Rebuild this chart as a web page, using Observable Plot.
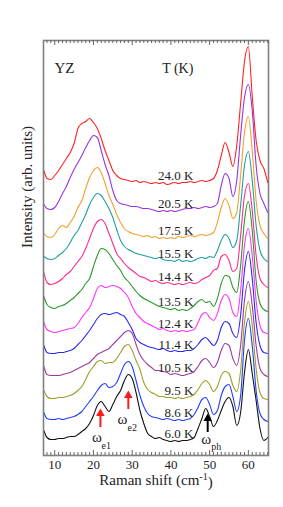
<!DOCTYPE html>
<html><head><meta charset="utf-8">
<script src="https://cdn.jsdelivr.net/npm/d3@7"></script>
<script src="https://cdn.jsdelivr.net/npm/@observablehq/plot@0.6"></script>
<style>
body{margin:0;background:#fff}
#chart svg, #chart svg text, #chart svg tspan {font-family: "Liberation Serif", "DejaVu Serif", "Times New Roman", serif !important;}
</style>
</head><body><div id="chart"></div>
<script>
// Raman shift grid (cm^-1)
const shift = [7.2,8,9,10,11,12,13,14,15,16,17,18,19,20,21,22,23,24,25,26,27,28,29,30,31,32,33,34,35,36,37,38,39,40,41,42,43,44,45,46,47,48,49,50,51,52,53,54,55,56,57,58,59,60,61,62,63,64,65];
const temperatures = ["24.0 K","20.5 K","17.5 K","15.5 K","14.4 K","13.5 K","12.4 K","11.4 K","10.5 K","9.5 K","8.6 K","6.0 K"];
const offsets = [278,250,223,200,177,152,130,109,86,63,41,20];
const colors = ["#ff2222","#9933dd","#f0a030","#229e9e","#ff2a8a","#2a9a2a","#ff33ff","#2a2aee","#a03aa0","#a0a028","#2040ff","#111111"];
const majorTicks = [10,20,30,40,50,60];

// Intensity spectra (arb. units), one per temperature
const s24_0 = [12,4,3,7,12,18,24,30,39,54,59,61,64,60,54,44,32,22,12,7,4,3,2,1,2,0,1,0,-1,0,-1,0,-2,-1,0,-1,0,0,1,0,1,2,1,2,4,12,27,40,30,16,37,79,121,136,86,42,22,14,0];
const s20_5 = [6,2,1,3,9,17,24,33,41,48,55,63,70,75,73,60,46,35,20,10,7,6,5,4,4,3,2,2,1,0,-1,0,-1,0,-1,0,1,2,2,3,2,3,4,3,4,7,25,37,32,14,30,75,113,126,100,45,17,7,-2];
const s17_5 = [4,1,0,3,9,12,10,15,21,30,37,49,60,67,70,65,54,42,33,23,15,9,6,4,3,2,1,2,0,1,-1,0,-1,0,-1,1,0,1,2,1,2,3,2,3,5,15,30,39,32,19,25,62,105,121,87,37,12,4,-1];
const s15_5 = [4,2,1,2,5,8,12,18,25,30,38,46,56,63,67,65,59,52,43,31,20,14,11,9,7,6,5,4,3,2,3,1,0,0,-1,1,-1,0,-1,0,2,3,2,4,3,10,20,26,22,13,20,55,95,109,80,35,10,2,-1];
const s14_4 = [11,1,-1,0,2,5,9,12,17,22,27,35,45,55,62,64,60,50,40,30,25,20,16,13,10,7,6,4,2,3,1,0,1,0,-1,0,-1,0,1,0,1,4,6,8,13,15,27,29,23,12,15,48,88,100,73,28,5,-1,-4];
const s13_5 = [12,4,1,0,2,3,5,8,11,15,19,25,30,42,53,60,59,55,49,43,38,31,27,22,17,13,10,8,6,4,2,1,0,-1,0,-2,-1,-2,0,3,7,9,6,7,2,10,25,33,32,21,16,43,88,107,78,28,5,-1,-3];
const s12_4 = [8,1,-1,-2,-1,0,1,2,3,7,13,18,23,32,42,45,43,44,45,44,42,38,33,24,17,13,9,7,5,3,1,2,0,-1,0,-1,0,-1,0,1,8,16,18,13,10,17,30,36,32,18,14,40,85,102,75,30,5,-2,-3];
const s11_4 = [6,-1,-2,-2,-1,-1,0,1,3,7,11,16,21,27,33,37,38,37,38,39,37,35,29,22,13,9,7,5,4,3,2,3,1,0,1,0,0,1,1,3,7,12,14,10,6,11,24,30,28,18,14,36,81,100,73,29,6,-1,-2];
const s10_5 = [8,0,-1,-1,-1,0,1,2,4,6,8,10,12,16,20,22,24,26,30,34,38,42,44,41,30,20,14,10,7,4,4,3,2,0,1,0,-1,0,1,3,8,14,16,12,7,12,24,31,29,16,9,29,74,93,69,29,6,0,-2];
const s9_5 = [7,1,-1,-1,0,0,1,2,4,7,11,18,26,31,36,37,34,35,35,39,45,51,53,47,37,28,15,8,5,3,1,1,0,0,-1,0,-1,0,1,3,8,14,17,13,6,11,22,26,24,12,6,27,75,96,72,29,5,-1,-2];
const s8_6 = [7,1,0,0,1,0,1,2,3,5,8,13,18,23,29,34,36,32,33,37,46,55,58,53,39,24,13,6,3,2,1,0,1,0,-1,0,-1,0,1,5,12,20,22,15,5,9,24,33,35,23,8,24,79,101,74,29,6,0,-2];
const s6_0 = [10,3,1,1,2,2,3,4,4,6,9,12,17,25,35,39,34,29,36,44,50,60,66,62,48,30,17,7,4,2,3,1,0,-1,0,-1,0,0,1,3,12,22,32,24,14,20,30,39,43,34,15,28,68,91,67,40,12,0,3];
const spectra = [s24_0,s20_5,s17_5,s15_5,s14_4,s13_5,s12_4,s11_4,s10_5,s9_5,s8_6,s6_0];

// Annotations (cm^-1, arb. units)
const arrowShift = [21.8, 29.0, 49.5];
const arrowTail = [33, 51, 28];
const arrowHead = [50, 68, 45];
const arrowColor = ["#ff1a1a", "#ff1a1a", "#000000"];
const modeShift = [20.9, 27.5, 49.1];
const modeY = [23, 41, 21];
const modeSub = ["e1", "e2", "ph"];
const modeSubShift = [23.3, 30.0, 51.7];
const modeSubY = [15, 33, 14];
const labelShift = 45.8;

const rows = [];
spectra.forEach((s, i) => s.forEach((v, j) => rows.push({x: shift[j], y: offsets[i] + v, T: temperatures[i]})));
const minorTicks = d3.range(8, 66).filter(d => d % 10 !== 0);
const arrows = arrowShift.map((x, i) => ({x, y1: arrowTail[i], y2: arrowHead[i] - 5, yh: arrowHead[i] - 3, c: arrowColor[i]}));
const serif = "Liberation Serif, DejaVu Serif, serif";

const chart = Plot.plot({
  width: 283, height: 507,
  marginLeft: 43, marginRight: 15, marginTop: 40, marginBottom: 52,
  style: {fontFamily: serif, fontSize: "13px", background: "white", color: "#222"},
  x: {domain: [7.1, 65.2]},
  y: {domain: [5, 420], axis: null},
  color: {domain: temperatures, range: colors},
  marks: [
    Plot.lineY(rows, {x: "x", y: "y", z: "T", stroke: "T", strokeWidth: 1.1, curve: "monotone-x"}),
    Plot.frame({stroke: "#808080", strokeWidth: 1.6}),
    Plot.tickX(minorTicks, {x: d => d, insetTop: 412, stroke: "#666"}),
    Plot.tickX(majorTicks, {x: d => d, insetTop: 410, stroke: "#666"}),
    Plot.tickX(minorTicks, {x: d => d, insetBottom: 412, stroke: "#666"}),
    Plot.tickX(majorTicks, {x: d => d, insetBottom: 410, stroke: "#666"}),
    Plot.axisX({ticks: majorTicks, tickSize: 0, tickPadding: 4, label: null, fontSize: 13, fontFamily: serif}),
    Plot.text(temperatures, {x: () => labelShift, y: (d, i) => offsets[i], text: d => d, textAnchor: "end", dy: -7, fontSize: 13, fontFamily: serif, fill: "#222"}),
    Plot.text(["T (K)"], {x: [labelShift], frameAnchor: "top", textAnchor: "end", dy: 23, fontSize: 14, fontFamily: serif, fill: "#222"}),
    Plot.text(["YZ"], {frameAnchor: "top-left", dx: 11, dy: 22, fontSize: 15, fontFamily: serif, fill: "#222"}),
    Plot.ruleX(arrows, {x: "x", y1: "y1", y2: "y2", stroke: "c", strokeWidth: 2}),
    Plot.dot(arrows, {x: "x", y: "yh", symbol: "triangle", r: 3.2, fill: "c", stroke: "none"}),
    Plot.text(modeShift, {x: d => d, y: (d, i) => modeY[i], text: () => "ω", fontSize: 15, fontFamily: serif, fill: "#222"}),
    Plot.text(modeSub, {x: (d, i) => modeSubShift[i], y: (d, i) => modeSubY[i], text: d => d, fontSize: 10, fontFamily: serif, fill: "#222"}),
    Plot.text(["Intensity (arb. units)"], {frameAnchor: "left", dx: -16, rotate: -90, fontSize: 15, fontFamily: serif, fill: "#222"}),
    Plot.text(["Raman shift (cm-1)"], {frameAnchor: "bottom", dy: 29, fontSize: 15, fontFamily: serif, fill: "#222"})
  ]
});
chart.querySelectorAll("text").forEach(t => {
  if (t.textContent === "Raman shift (cm-1)") {
    t.textContent = "Raman shift (cm";
    const sup = document.createElementNS("http://www.w3.org/2000/svg", "tspan");
    sup.setAttribute("dy", "-0.5em"); sup.setAttribute("font-size", "10");
    sup.textContent = "-1";
    const close = document.createElementNS("http://www.w3.org/2000/svg", "tspan");
    close.setAttribute("dy", "0.5em");
    close.textContent = ")";
    t.appendChild(sup); t.appendChild(close);
  }
});
document.getElementById("chart").appendChild(chart);
</script>
</body></html>
